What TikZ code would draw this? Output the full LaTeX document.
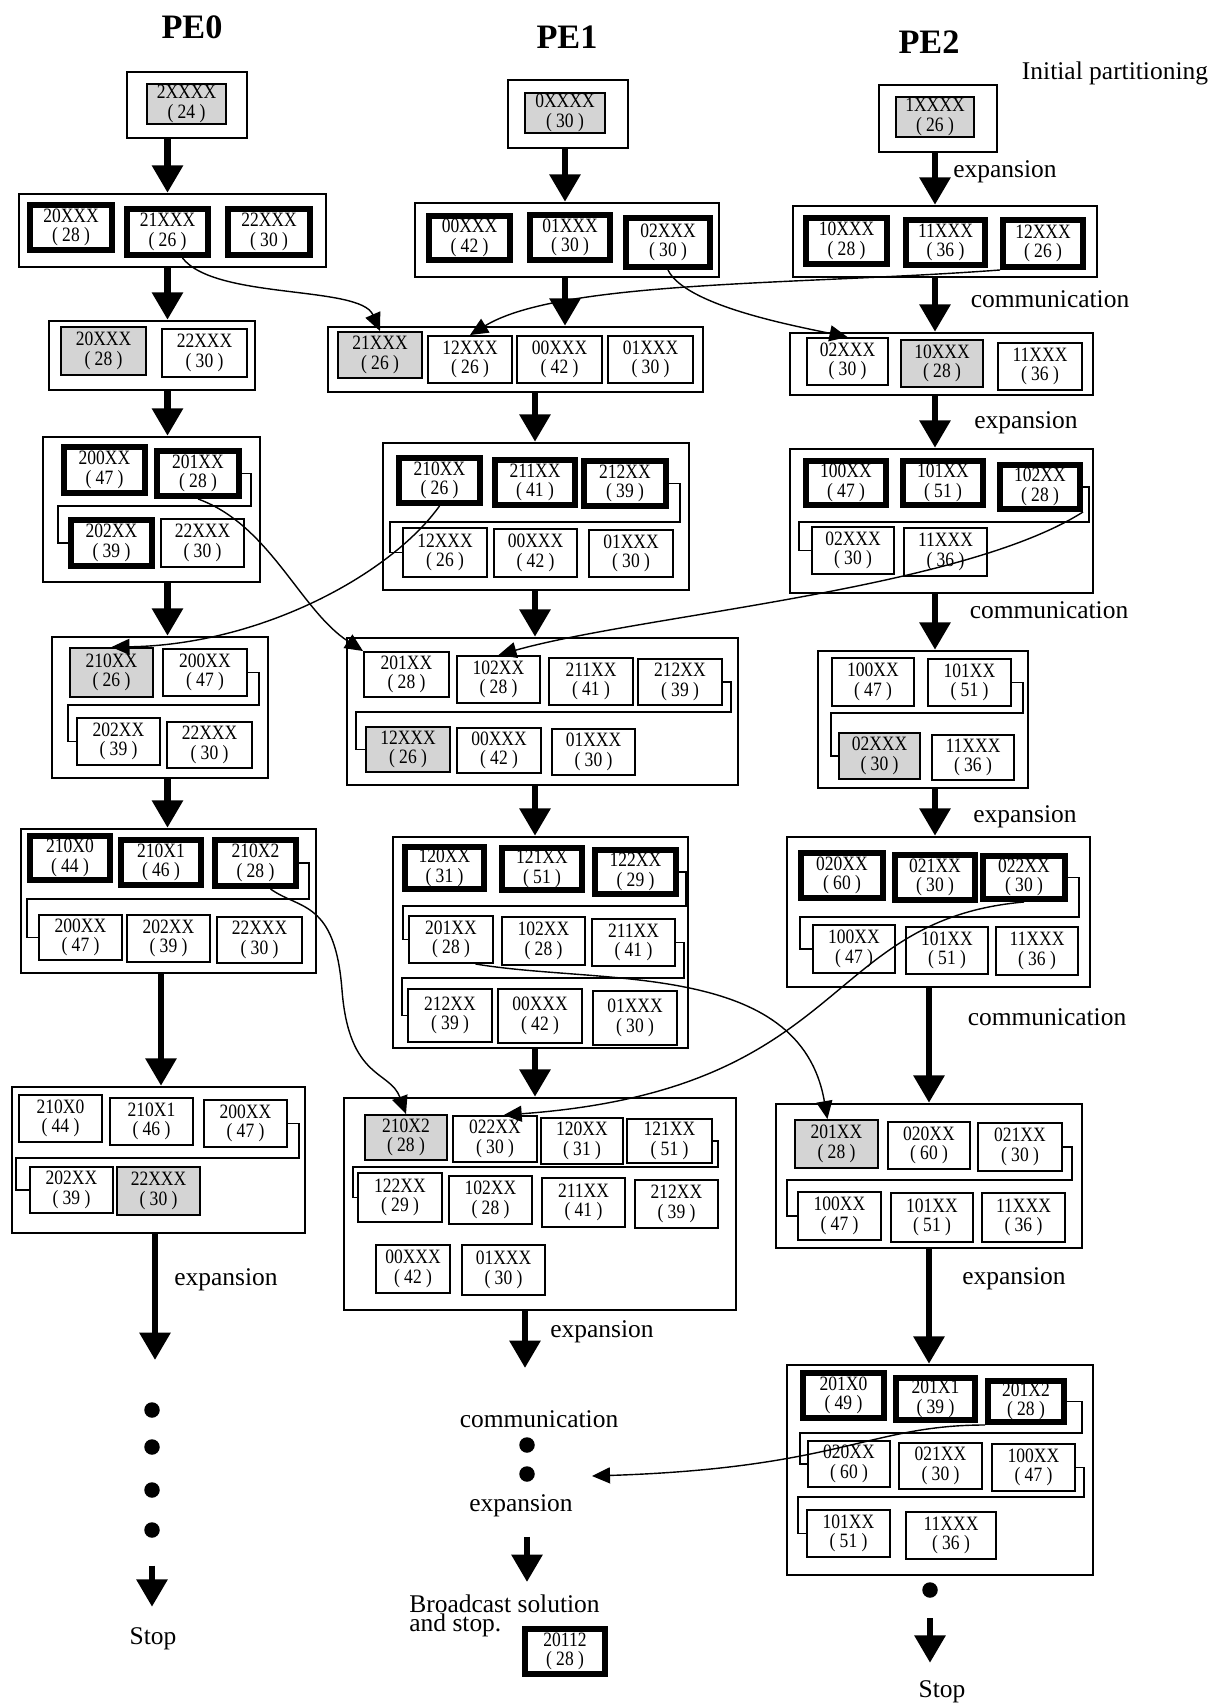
\documentclass[tikz,border=0pt]{standalone}
\usepackage{fontspec}
\setmainfont{Liberation Serif}
\newfontfamily\boxfont[FakeStretch=0.86]{Liberation Serif}
\usetikzlibrary{arrows.meta}
\tikzset{
	cell/.style n args={4}{at={({(#1+#3)/2},{(#2+#4)/2})}, minimum width={(#3-#1)*0.02cm}, minimum height={(#4-#2)*0.02cm}},
	pe/.style={font=\fontsize{19.5}{22}\selectfont\bfseries, inner sep=0pt, anchor=base},
	steplabel/.style={font=\fontsize{14.5}{16}\selectfont, inner sep=0pt, anchor=base},
	statebox/.style={rectangle, draw, line width=1.4pt, inner sep=0pt},
	qitem/.style={rectangle, draw, line width=1.1pt, fill=white, inner sep=0pt, align=center, font=\boxfont\fontsize{11.6}{11}\selectfont},
	qnew/.style={qitem, line width=3.4pt},
	qrecv/.style={qitem, fill=black!17},
	flow/.style={line width=3.6pt, -{Triangle[width=0.6cm,length=0.55cm]}},
	comm/.style={line width=0.8pt, -{Triangle[width=0.32cm,length=0.36cm]}},
	qlink/.style={line width=0.9pt},
	dotnode/.style={circle, fill, inner sep=0pt, minimum size=0.31cm}
}

\begin{document}
\begin{tikzpicture}[x=0.02cm, y=-0.02cm]
	\useasboundingbox (0,0) rectangle (1219,1704);

	% --- Titles and step labels ---
	\node[pe] (pe0) at (192,38) {PE0};
	\node[pe] (pe1) at (567,48) {PE1};
	\node[pe] (pe2) at (929,53) {PE2};
	\node[steplabel] (init) at (1115,79) {Initial partitioning};
	\node[steplabel] (exp2a) at (1005,177) {expansion};
	\node[steplabel] (com2a) at (1050,307) {communication};
	\node[steplabel] (exp2b) at (1026,428) {expansion};
	\node[steplabel] (com2b) at (1049,618) {communication};
	\node[steplabel] (exp2c) at (1025,822) {expansion};
	\node[steplabel] (com2c) at (1047,1025) {communication};
	\node[steplabel] (exp2d) at (1014,1284) {expansion};
	\node[steplabel] (exp0) at (226,1285) {expansion};
	\node[steplabel] (exp1a) at (602,1337) {expansion};
	\node[steplabel] (com1) at (539,1427) {communication};
	\node[steplabel] (exp1b) at (521,1511) {expansion};
	\node[steplabel] (stop0) at (153,1644) {Stop};
	\node[steplabel] (stop2) at (942,1697) {Stop};
	\node[steplabel, anchor=north west, align=left, font={\fontsize{14.5}{11}\selectfont}] (bcast) at (409,1594) {Broadcast solution\\and stop.};

	% --- PE0 ---
	\node[statebox, cell={127}{72}{247}{138}] (s00) {};
	\node[qrecv, cell={147}{84}{226}{124}] (s00a) {2XXXX\\( 24 )};

	\node[statebox, cell={19}{194}{326}{267}] (s01) {};
	\node[qnew, cell={30}{205}{112}{250}] (s01a) {20XXX\\( 28 )};
	\node[qnew, cell={127}{209}{208}{255}] (s01b) {21XXX\\( 26 )};
	\node[qnew, cell={228}{209}{310}{255}] (s01c) {22XXX\\( 30 )};

	\node[statebox, cell={49}{321}{255}{390}] (s02) {};
	\node[qrecv, cell={61}{327}{146}{375}] (s02a) {20XXX\\( 28 )};
	\node[qitem, cell={162}{329}{247}{377}] (s02b) {22XXX\\( 30 )};

	\node[statebox, cell={43}{437}{260}{582}] (s03) {};
	\node[qnew, cell={64}{447}{145}{493}] (s03a) {200XX\\( 47 )};
	\node[qnew, cell={157}{451}{239}{496}] (s03b) {201XX\\( 28 )};
	\node[qnew, cell={71}{520}{152}{566}] (s03c) {202XX\\( 39 )};
	\node[qitem, cell={161}{519}{244}{567}] (s03d) {22XXX\\( 30 )};

	\node[statebox, cell={52}{637}{268}{778}] (s04) {};
	\node[qrecv, cell={70}{648}{153}{697}] (s04a) {210XX\\( 26 )};
	\node[qitem, cell={163}{649}{247}{696}] (s04b) {200XX\\( 47 )};
	\node[qitem, cell={77}{718}{160}{765}] (s04c) {202XX\\( 39 )};
	\node[qitem, cell={167}{722}{252}{768}] (s04d) {22XXX\\( 30 )};

	\node[statebox, cell={21}{829}{316}{973}] (s05) {};
	\node[qnew, cell={30}{836}{110}{880}] (s05a) {210X0\\( 44 )};
	\node[qnew, cell={121}{840}{201}{885}] (s05b) {210X1\\( 46 )};
	\node[qnew, cell={215}{840}{296}{886}] (s05c) {210X2\\( 28 )};
	\node[qitem, cell={39}{915}{122}{960}] (s05d) {200XX\\( 47 )};
	\node[qitem, cell={127}{915}{210}{962}] (s05e) {202XX\\( 39 )};
	\node[qitem, cell={217}{917}{302}{963}] (s05f) {22XXX\\( 30 )};

	\node[statebox, cell={12}{1087}{305}{1233}] (s06) {};
	\node[qitem, cell={19}{1095}{102}{1142}] (s06a) {210X0\\( 44 )};
	\node[qitem, cell={110}{1098}{193}{1145}] (s06b) {210X1\\( 46 )};
	\node[qitem, cell={204}{1100}{287}{1147}] (s06c) {200XX\\( 47 )};
	\node[qitem, cell={30}{1167}{113}{1213}] (s06d) {202XX\\( 39 )};
	\node[qrecv, cell={117}{1167}{200}{1215}] (s06e) {22XXX\\( 30 )};

	\node[dotnode] (d0a) at (152,1410) {};
	\node[dotnode] (d0b) at (152,1447) {};
	\node[dotnode] (d0c) at (152,1490) {};
	\node[dotnode] (d0d) at (152,1530) {};
	\coordinate (e0) at (155,1360);

	% --- PE1 ---
	\node[statebox, cell={508}{80}{628}{148}] (s10) {};
	\node[qrecv, cell={525}{93}{605}{133}] (s10a) {0XXXX\\( 30 )};

	\node[statebox, cell={415}{203}{719}{277}] (s11) {};
	\node[qnew, cell={429}{216}{510}{260}] (s11a) {00XXX\\( 42 )};
	\node[qnew, cell={530}{215}{610}{260}] (s11b) {01XXX\\( 30 )};
	\node[qnew, cell={626}{218}{710}{267}] (s11c) {02XXX\\( 30 )};

	\node[statebox, cell={328}{327}{703}{392}] (s12) {};
	\node[qrecv, cell={338}{332}{422}{378}] (s12a) {21XXX\\( 26 )};
	\node[qitem, cell={428}{336}{512}{383}] (s12b) {12XXX\\( 26 )};
	\node[qitem, cell={517}{336}{602}{383}] (s12c) {00XXX\\( 42 )};
	\node[qitem, cell={608}{336}{693}{383}] (s12d) {01XXX\\( 30 )};

	\node[statebox, cell={383}{443}{689}{590}] (s13) {};
	\node[qnew, cell={399}{458}{480}{503}] (s13a) {210XX\\( 26 )};
	\node[qnew, cell={495}{460}{575}{505}] (s13b) {211XX\\( 41 )};
	\node[qnew, cell={584}{461}{666}{506}] (s13c) {212XX\\( 39 )};
	\node[qitem, cell={403}{528}{487}{577}] (s13d) {12XXX\\( 26 )};
	\node[qitem, cell={494}{529}{577}{577}] (s13e) {00XXX\\( 42 )};
	\node[qitem, cell={589}{530}{673}{577}] (s13f) {01XXX\\( 30 )};

	\node[statebox, cell={347}{638}{738}{785}] (s14) {};
	\node[qitem, cell={364}{652}{449}{697}] (s14a) {201XX\\( 28 )};
	\node[qitem, cell={457}{656}{540}{703}] (s14b) {102XX\\( 28 )};
	\node[qitem, cell={549}{658}{633}{705}] (s14c) {211XX\\( 41 )};
	\node[qitem, cell={638}{659}{722}{705}] (s14d) {212XX\\( 39 )};
	\node[qrecv, cell={366}{727}{450}{772}] (s14e) {12XXX\\( 26 )};
	\node[qitem, cell={457}{728}{541}{773}] (s14f) {00XXX\\( 42 )};
	\node[qitem, cell={552}{729}{635}{775}] (s14g) {01XXX\\( 30 )};

	\node[statebox, cell={393}{837}{688}{1048}] (s15) {};
	\node[qnew, cell={405}{847}{484}{889}] (s15a) {120XX\\( 31 )};
	\node[qnew, cell={502}{848}{582}{890}] (s15b) {121XX\\( 51 )};
	\node[qnew, cell={595}{850}{676}{894}] (s15c) {122XX\\( 29 )};
	\node[qitem, cell={409}{916}{493}{963}] (s15d) {201XX\\( 28 )};
	\node[qitem, cell={502}{917}{585}{965}] (s15e) {102XX\\( 28 )};
	\node[qitem, cell={592}{919}{675}{966}] (s15f) {211XX\\( 41 )};
	\node[qitem, cell={408}{989}{492}{1042}] (s15g) {212XX\\( 39 )};
	\node[qitem, cell={498}{989}{582}{1043}] (s15h) {00XXX\\( 42 )};
	\node[qitem, cell={593}{991}{677}{1045}] (s15i) {01XXX\\( 30 )};

	\node[statebox, cell={344}{1098}{736}{1310}] (s16) {};
	\node[qrecv, cell={365}{1115}{447}{1160}] (s16a) {210X2\\( 28 )};
	\node[qitem, cell={453}{1116}{537}{1162}] (s16b) {022XX\\( 30 )};
	\node[qitem, cell={541}{1118}{623}{1164}] (s16c) {120XX\\( 31 )};
	\node[qitem, cell={627}{1119}{712}{1163}] (s16d) {121XX\\( 51 )};
	\node[qitem, cell={358}{1173}{442}{1222}] (s16e) {122XX\\( 29 )};
	\node[qitem, cell={449}{1176}{532}{1224}] (s16f) {102XX\\( 28 )};
	\node[qitem, cell={542}{1178}{625}{1227}] (s16g) {211XX\\( 41 )};
	\node[qitem, cell={635}{1180}{718}{1228}] (s16h) {212XX\\( 39 )};
	\node[qitem, cell={376}{1245}{450}{1293}] (s16i) {00XXX\\( 42 )};
	\node[qitem, cell={462}{1245}{545}{1295}] (s16j) {01XXX\\( 30 )};

	\node[dotnode] (d1a) at (527,1445) {};
	\node[dotnode] (d1b) at (527,1474) {};
	\coordinate (e1a) at (525,1368);
	\coordinate (e1b) at (527,1582);
	\coordinate (hit1) at (592,1476);
	\node[qnew, cell={525}{1629}{605}{1674}] (sol) {20112\\( 28 )};

	% --- PE2 ---
	\node[statebox, cell={879}{85}{997}{152}] (s20) {};
	\node[qrecv, cell={896}{97}{974}{137}] (s20a) {1XXXX\\( 26 )};

	\node[statebox, cell={793}{206}{1097}{277}] (s21) {};
	\node[qnew, cell={806}{218}{887}{264}] (s21a) {10XXX\\( 28 )};
	\node[qnew, cell={906}{220}{985}{265}] (s21b) {11XXX\\( 36 )};
	\node[qnew, cell={1003}{220}{1083}{267}] (s21c) {12XXX\\( 26 )};

	\node[statebox, cell={790}{333}{1093}{395}] (s22) {};
	\node[qitem, cell={807}{338}{888}{385}] (s22a) {02XXX\\( 30 )};
	\node[qrecv, cell={901}{340}{983}{387}] (s22b) {10XXX\\( 28 )};
	\node[qitem, cell={998}{343}{1082}{390}] (s22c) {11XXX\\( 36 )};

	\node[statebox, cell={790}{449}{1093}{593}] (s23) {};
	\node[qnew, cell={806}{461}{886}{505}] (s23a) {100XX\\( 47 )};
	\node[qnew, cell={903}{461}{983}{505}] (s23b) {101XX\\( 51 )};
	\node[qnew, cell={1000}{465}{1080}{509}] (s23c) {102XX\\( 28 )};
	\node[qitem, cell={812}{527}{894}{574}] (s23d) {02XXX\\( 30 )};
	\node[qitem, cell={904}{528}{987}{576}] (s23e) {11XXX\\( 36 )};

	\node[statebox, cell={818}{651}{1028}{788}] (s24) {};
	\node[qitem, cell={832}{658}{914}{706}] (s24a) {100XX\\( 47 )};
	\node[qitem, cell={928}{659}{1011}{706}] (s24b) {101XX\\( 51 )};
	\node[qrecv, cell={839}{733}{920}{779}] (s24c) {02XXX\\( 30 )};
	\node[qitem, cell={932}{735}{1014}{780}] (s24d) {11XXX\\( 36 )};

	\node[statebox, cell={787}{837}{1090}{987}] (s25) {};
	\node[qnew, cell={801}{853}{883}{898}] (s25a) {020XX\\( 60 )};
	\node[qnew, cell={895}{855}{975}{900}] (s25b) {021XX\\( 30 )};
	\node[qnew, cell={983}{856}{1065}{899}] (s25c) {022XX\\( 30 )};
	\node[qitem, cell={813}{925}{895}{973}] (s25d) {100XX\\( 47 )};
	\node[qitem, cell={906}{927}{988}{974}] (s25e) {101XX\\( 51 )};
	\node[qitem, cell={996}{927}{1078}{975}] (s25f) {11XXX\\( 36 )};

	\node[statebox, cell={776}{1104}{1082}{1248}] (s26) {};
	\node[qrecv, cell={795}{1120}{878}{1168}] (s26a) {201XX\\( 28 )};
	\node[qitem, cell={888}{1122}{970}{1169}] (s26b) {020XX\\( 60 )};
	\node[qitem, cell={978}{1123}{1062}{1171}] (s26c) {021XX\\( 30 )};
	\node[qitem, cell={798}{1192}{881}{1240}] (s26d) {100XX\\( 47 )};
	\node[qitem, cell={891}{1193}{973}{1242}] (s26e) {101XX\\( 51 )};
	\node[qitem, cell={982}{1193}{1065}{1242}] (s26f) {11XXX\\( 36 )};

	\node[statebox, cell={787}{1365}{1093}{1575}] (s27) {};
	\node[qnew, cell={803}{1373}{884}{1418}] (s27a) {201X0\\( 49 )};
	\node[qnew, cell={896}{1378}{975}{1420}] (s27b) {201X1\\( 39 )};
	\node[qnew, cell={988}{1381}{1064}{1422}] (s27c) {201X2\\( 28 )};
	\node[qitem, cell={808}{1441}{890}{1487}] (s27d) {020XX\\( 60 )};
	\node[qitem, cell={899}{1443}{982}{1489}] (s27e) {021XX\\( 30 )};
	\node[qitem, cell={992}{1444}{1075}{1491}] (s27f) {100XX\\( 47 )};
	\node[qitem, cell={807}{1510}{890}{1557}] (s27g) {101XX\\( 51 )};
	\node[qitem, cell={906}{1512}{996}{1559}] (s27h) {11XXX\\( 36 )};

	\node[dotnode] (d2a) at (930,1590) {};

	% --- Queue order links ---
	\draw[qlink] (s03b.east) -- ++(9,0) |- (58,506) |- (s03c.west);
	\draw[qlink] (s04b.east) -- ++(11,0) |- (68,705) |- (s04c.west);
	\draw[qlink] (s05c.east) -- ++(10,0) |- (27,899) |- (s05d.west);
	\draw[qlink] (s06c.east) -- ++(11,0) |- (16,1158) |- (s06d.west);
	\draw[qlink] (s13c.east) -- ++(11,0) |- (390,522) |- (s13d.west);
	\draw[qlink] (s14d.east) -- ++(8,0) |- (356,712) |- (s14e.west);
	\draw[qlink] (s15c.east) -- ++(7,0) |- (403,906) |- (s15d.west);
	\draw[qlink] (s15f.east) -- ++(8,0) |- (402,978) |- (s15g.west);
	\draw[qlink] (s16d.east) -- ++(5,0) |- (353,1167) |- (s16e.west);
	\draw[qlink] (s23c.east) -- ++(6,0) |- (799,522) |- (s23d.west);
	\draw[qlink] (s24b.east) -- ++(11,0) |- (831,713) |- (s24c.west);
	\draw[qlink] (s25c.east) -- ++(11,0) |- (800,917) |- (s25d.west);
	\draw[qlink] (s26c.east) -- ++(9,0) |- (787,1180) |- (s26d.west);
	\draw[qlink] (s27c.east) -- ++(15,0) |- (800,1433) |- (s27d.west);
	\draw[qlink] (s27f.east) -- ++(8,0) |- (798,1497) |- (s27g.west);

	% --- Expansion / communication steps ---
	\draw[flow] (s00.south -| s01b) -- (s01.north -| s01b);
	\draw[flow] (s01.south -| s01b) -- (s02.north -| s01b);
	\draw[flow] (s02.south -| s01b) -- (s03.north -| s01b);
	\draw[flow] (s03.south -| s01b) -- (s04.north -| s01b);
	\draw[flow] (s04.south -| s01b) -- (s05.north -| s01b);
	\draw[flow] (s05.south -| s05b) -- (s06.north -| s05b);
	\draw[flow] (s06.south -| e0) -- (e0);
	\draw[flow, shorten <=0.55cm, shorten >=0.4cm] (d0d) -- (d0d |- stop0.north);

	\draw[flow] (s10.south -| s10a) -- (s11.north -| s10a);
	\draw[flow] (s11.south -| s10a) -- (s12.north -| s10a);
	\draw[flow] (s12.south -| s13b) -- (s13.north -| s13b);
	\draw[flow] (s13.south -| s13b) -- (s14.north -| s13b);
	\draw[flow] (s14.south -| s13b) -- (s15.north -| s13b);
	\draw[flow] (s15.south -| s13b) -- (s16.north -| s13b);
	\draw[flow] (s16.south -| e1a) -- (e1a);
	\draw[flow, shorten <=0.4cm] (exp1b.south -| e1b) -- (e1b);

	\draw[flow] (s20.south -| s20a) -- (s21.north -| s20a);
	\draw[flow] (s21.south -| s20a) -- (s22.north -| s20a);
	\draw[flow] (s22.south -| s20a) -- (s23.north -| s20a);
	\draw[flow] (s23.south -| s20a) -- (s24.north -| s20a);
	\draw[flow] (s24.south -| s20a) -- (s25.north -| s20a);
	\draw[flow] (s25.south -| s26b) -- (s26.north -| s26b);
	\draw[flow] (s26.south -| s26b) -- (s27.north -| s26b);
	\draw[flow, shorten <=0.4cm, shorten >=0.34cm] (d2a) -- (d2a |- stop2.north);

	% --- Transfers between PEs ---
	\draw[comm] (s01b.-60) .. controls (215,300) and (360,285) .. (s12a.north);
	\draw[comm] (s21c.south west) .. controls (800,285) and (560,280) .. (s12b.north);
	\draw[comm] (s11c.south) .. controls (685,305) and (790,325) .. (s22a.north);
	\draw[comm] (s03b.south) .. controls (270,525) and (300,610) .. (s14a.north west);
	\draw[comm] (s13a.south) .. controls (390,575) and (260,645) .. (s04a.north);
	\draw[comm] (s23c.south east) .. controls (960,590) and (640,615) .. (s14b.north);
	\draw[comm] (s05c.-60) .. controls (300,910) and (335,900) .. (342,990) .. controls (349,1080) and (390,1070) .. (s16a.north);
	\draw[comm] (s15d.-45) .. controls (600,985) and (800,960) .. (s26a.110);
	\draw[comm] (s25c.south) .. controls (820,920) and (850,1090) .. (s16b.70);
	\draw[comm] (s27c.south west) .. controls (870,1425) and (840,1468) .. (hit1);

\end{tikzpicture}
\end{document}
